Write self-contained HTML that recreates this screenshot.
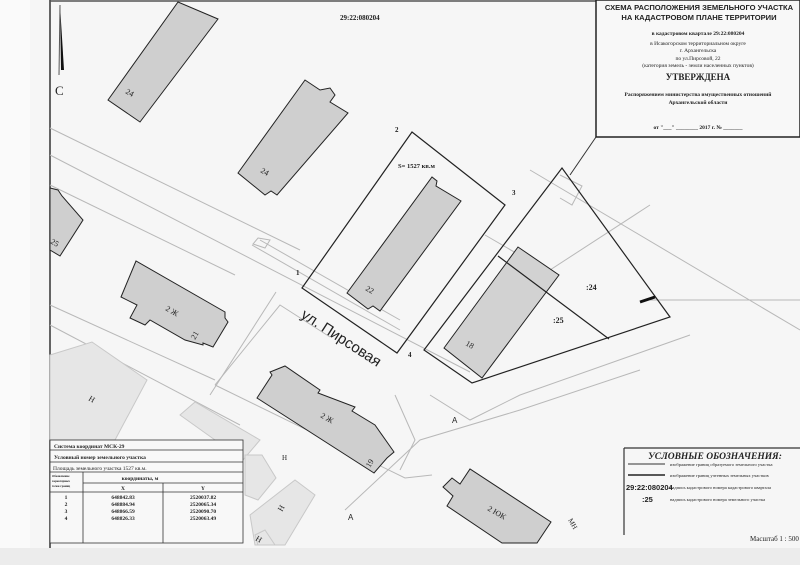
<!DOCTYPE html>
<html><head><meta charset="utf-8"><style>
html,body{margin:0;padding:0;background:#f6f6f6;}
svg{display:block}
text{font-family:"Liberation Serif",serif;fill:#222}
.s{font-family:"Liberation Sans",sans-serif}
</style></head><body>
<svg width="800" height="565" viewBox="0 0 800 565" xmlns="http://www.w3.org/2000/svg">
<rect width="800" height="565" fill="#f6f6f6"/>
<rect x="0" y="0" width="30" height="565" fill="#fafafa"/>
<rect x="0" y="548" width="800" height="17" fill="#ececec"/>
<line x1="50" y1="0" x2="50" y2="548" stroke="#333" stroke-width="1.5"/>
<line x1="50" y1="1" x2="600" y2="1" stroke="#555" stroke-width="1.5"/>
<g stroke="#b8b8b8" stroke-width="1" fill="none">
<line x1="50" y1="128" x2="300" y2="250"/>
<line x1="50" y1="155" x2="470" y2="372"/>
<line x1="50" y1="185" x2="235" y2="275"/>
<line x1="50" y1="305" x2="215" y2="380"/>
<line x1="50" y1="325" x2="240" y2="425"/>
<polygon points="258,238 270,240 265,248 253,244"/>
<polyline points="260,240 400,320"/>
<polyline points="252,245 400,330"/>
<polyline points="215,385 280,305 330,337"/>
<polyline points="210,395 276,292"/>
<polyline points="215,385 405,478 432,475"/>
<polyline points="430,395 470,420 520,395 690,335"/>
<polyline points="345,510 420,440 520,410 640,370"/>
<polyline points="395,395 415,440 400,470"/>
<polyline points="530,283 650,205"/>
<polyline points="485,235 528,260"/>
<polyline points="530,170 800,330"/>
<polyline points="650,300 800,300"/>
<polyline points="560,175 582,186 572,205 560,198"/>
</g>
<g fill="#e6e6e6" stroke="#c8c8c8">
<polygon points="50,355 92,342 147,380 115,440 50,440"/>
<polygon points="180,415 195,402 260,440 243,460"/>
<polygon points="245,455 262,455 276,478 258,500 245,495"/>
<polygon points="250,515 295,480 315,495 285,545 255,545"/>
<polygon points="255,535 265,530 275,545 258,545"/>
</g>
<g fill="#cfcfcf" stroke="#222" stroke-width="1">
<polygon points="108,100 178,2 218,19 140,122"/>
<polygon points="238,173 305,80 320,90 330,88 335,95 330,102 348,113 277,195 271,191 265,195"/>
<polygon points="347,293 432,177 437,181 436,186 461,201 380,311 373,306 368,309"/>
<polygon points="121,297 136,261 225,312 225,318 228,322 213,347 203,343 203,345 185,340 150,320 145,325 130,318 137,305"/>
<polygon points="257,398 272,375 270,372 285,366 320,390 318,393 355,407 352,411 375,425 394,452 387,458 374,473"/>
<polygon points="50,188 58,190 62,196 83,220 60,256 50,250"/>
<polygon points="443,487 452,478 460,484 470,469 551,522 537,543 502,543 447,506 453,496"/>
</g>
<polygon points="444,348 518,247 559,275 482,378" fill="#d2d2d2" stroke="#222"/>
<polygon points="302,288 412,132 505,205 397,353" fill="none" stroke="#222" stroke-width="1.2"/>
<polygon points="424,350 562,168 670,317 472,383" fill="none" stroke="#222" stroke-width="1.2"/>
<line x1="498" y1="256" x2="609" y2="339" stroke="#222" stroke-width="1.2"/>
<line x1="640" y1="302" x2="655" y2="297" stroke="#111" stroke-width="3"/>
<text x="125" y="93" font-size="8" transform="rotate(30 125 93)">24</text>
<text x="260" y="172" font-size="8" transform="rotate(30 260 172)">24</text>
<text x="365" y="290" font-size="8" transform="rotate(30 365 290)">22</text>
<text x="465" y="345" font-size="8" transform="rotate(30 465 345)">18</text>
<text x="165" y="310" font-size="8" transform="rotate(30 165 310)">2 Ж</text>
<text x="195" y="340" font-size="8" transform="rotate(-60 195 340)">21</text>
<text x="320" y="417" font-size="8" transform="rotate(30 320 417)">2 Ж</text>
<text x="370" y="468" font-size="8" transform="rotate(-60 370 468)">19</text>
<text x="50" y="243" font-size="8" transform="rotate(30 50 243)">25</text>
<text x="487" y="510" font-size="8" transform="rotate(30 487 510)">2 ЮК</text>
<text x="568" y="520" font-size="7" transform="rotate(60 568 520)">МН</text>
<text x="88" y="400" font-size="8" transform="rotate(30 88 400)">Н</text>
<text x="282" y="460" font-size="7">Н</text>
<text x="282" y="512" font-size="8" transform="rotate(-60 282 512)">Н</text>
<text x="255" y="540" font-size="8" transform="rotate(30 255 540)">Н</text>
<text x="452" y="423" font-size="8" class="s">А</text>
<text x="348" y="520" font-size="8" class="s">А</text>
<text x="300" y="317" font-size="15" class="s" transform="rotate(33 300 317)">ул. Пирсовая</text>
<text x="296" y="275" font-size="7" font-weight="bold">1</text>
<text x="395" y="132" font-size="7" font-weight="bold">2</text>
<text x="512" y="195" font-size="7" font-weight="bold">3</text>
<text x="408" y="357" font-size="7" font-weight="bold">4</text>
<text x="398" y="168" font-size="6.5" font-weight="bold">S= 1527 кв.м</text>
<text x="586" y="290" font-size="8" font-weight="bold">:24</text>
<text x="553" y="323" font-size="8" font-weight="bold">:25</text>
<text x="340" y="20" font-size="7" font-weight="bold">29:22:080204</text>
<polygon points="60,5 64,70 61,70" fill="#111"/>
<line x1="60" y1="5" x2="59" y2="75" stroke="#555"/>
<text x="55" y="95" font-size="13">С</text>
<rect x="596" y="0" width="204" height="137" fill="#f8f8f8" stroke="#222" stroke-width="1.5"/>
<line x1="596" y1="137" x2="570" y2="175" stroke="#333"/>
<g font-size="5.5" text-anchor="middle">
<text x="699" y="10" font-size="7.6" font-weight="bold" class="s">СХЕМА РАСПОЛОЖЕНИЯ ЗЕМЕЛЬНОГО УЧАСТКА</text>
<text x="699" y="20" font-size="7.6" font-weight="bold" class="s">НА КАДАСТРОВОМ ПЛАНЕ ТЕРРИТОРИИ</text>
<text x="698" y="35" font-weight="bold">в кадастровом квартале 29:22:080204</text>
<text x="698" y="45">в Исакогорском территориальном округе</text>
<text x="698" y="52">г. Архангельска</text>
<text x="698" y="60">по ул.Пирсовой, 22</text>
<text x="698" y="67">(категория земель - земли населенных пунктов)</text>
<text x="698" y="80" font-size="9" font-weight="bold">УТВЕРЖДЕНА</text>
<text x="698" y="96" font-weight="bold">Распоряжением министерства имущественных отношений</text>
<text x="698" y="104" font-weight="bold">Архангельской области</text>
<text x="698" y="129" font-weight="bold">от "___" ________ 2017 г. № _______</text>
</g>
<g stroke="#333" stroke-width="0.8" fill="none">
<rect x="50" y="440" width="193" height="103" fill="#f8f8f8"/>
<line x1="50" y1="450" x2="243" y2="450"/>
<line x1="50" y1="462" x2="243" y2="462"/>
<line x1="50" y1="472" x2="243" y2="472"/>
<line x1="83" y1="483" x2="243" y2="483"/>
<line x1="50" y1="492" x2="243" y2="492"/>
<line x1="83" y1="472" x2="83" y2="543"/>
<line x1="163" y1="483" x2="163" y2="543"/>
</g>
<g font-size="5.5" font-weight="bold">
<text x="54" y="448">Система координат МСК-29</text>
<text x="54" y="459">Условный номер земельного участка</text>
<text x="53" y="470" font-weight="normal">Площадь земельного участка  1527 кв.м.</text>
<text x="52" y="477" font-size="3">Обозначение</text>
<text x="52" y="482" font-size="3">характерных</text>
<text x="52" y="487" font-size="3">точек границ</text>
<text x="140" y="480" text-anchor="middle">координаты, м</text>
<text x="123" y="490" text-anchor="middle">Х</text>
<text x="203" y="490" text-anchor="middle">Y</text>
<g text-anchor="middle">
<text x="66" y="499">1</text><text x="123" y="499">648842.83</text><text x="203" y="499">2520037.82</text>
<text x="66" y="506">2</text><text x="123" y="506">648884.94</text><text x="203" y="506">2520065.34</text>
<text x="66" y="513">3</text><text x="123" y="513">648866.59</text><text x="203" y="513">2520090.70</text>
<text x="66" y="520">4</text><text x="123" y="520">648826.33</text><text x="203" y="520">2520063.49</text>
</g></g>
<line x1="624" y1="448" x2="624" y2="535" stroke="#333" stroke-width="1.2"/>
<line x1="624" y1="448" x2="800" y2="448" stroke="#333" stroke-width="1.2"/>
<text x="715" y="459" font-size="9.5" font-weight="bold" font-style="italic" text-anchor="middle">УСЛОВНЫЕ ОБОЗНАЧЕНИЯ:</text>
<line x1="628" y1="464" x2="665" y2="464" stroke="#333"/>
<line x1="628" y1="475" x2="665" y2="475" stroke="#222" stroke-width="1.5"/>
<g font-size="4.5"><text x="670" y="466">изображение границ образуемого земельного участка</text>
<text x="670" y="477">изображение границ учтенных земельных участков</text>
<text x="670" y="489">надпись кадастрового номера кадастрового квартала</text>
<text x="670" y="501">надпись кадастрового номера земельного участка</text></g>
<text x="626" y="490" font-size="7.5" font-weight="bold" class="s">29:22:080204</text>
<text x="642" y="502" font-size="7.5" font-weight="bold" class="s">:25</text>
<text x="750" y="541" font-size="7">Масштаб  1 : 500</text>
</svg>
</body></html>
